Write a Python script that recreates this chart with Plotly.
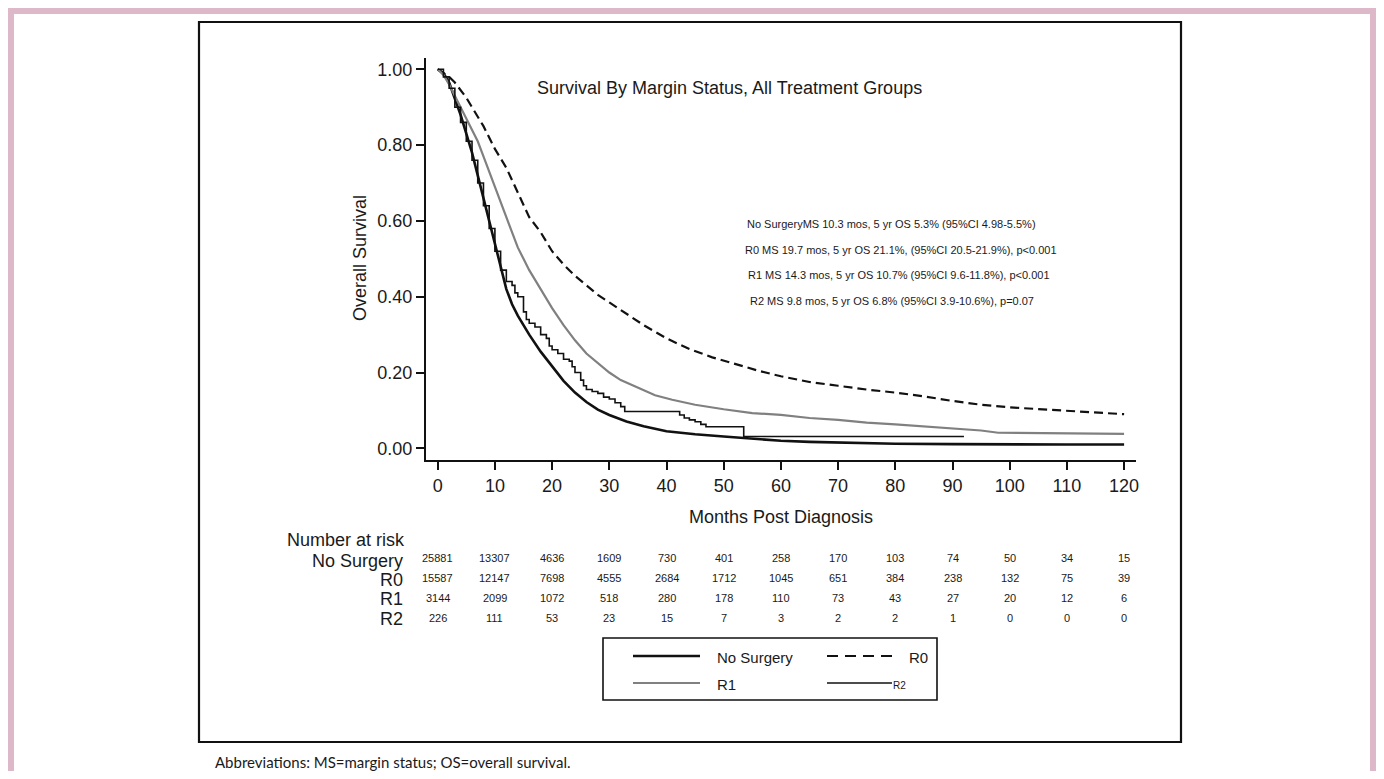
import plotly.graph_objects as go

# ---------------- data ----------------
ns_months = [0, 1, 2, 3, 4, 5, 6, 7, 8, 9, 10, 11, 12, 13, 14, 15, 16, 18, 20, 22, 24, 26, 28, 30, 33, 36, 40,
             45, 50, 55, 60, 65, 70, 75, 80, 90, 100, 110, 120]
ns_surv = [1.0, 0.99, 0.965, 0.925, 0.88, 0.83, 0.78, 0.72, 0.66, 0.60, 0.54, 0.48, 0.42, 0.38, 0.35, 0.325,
           0.30, 0.255, 0.215, 0.178, 0.147, 0.122, 0.102, 0.088, 0.071, 0.058, 0.045, 0.037, 0.031, 0.025,
           0.02, 0.017, 0.015, 0.013, 0.012, 0.011, 0.01, 0.01, 0.01]

r0_months = [0, 1, 2, 3, 4, 5, 6, 7, 8, 9, 10, 12, 14, 16, 18, 20, 22, 24, 26, 28, 30, 33, 36, 40, 44, 48, 52,
             56, 60, 65, 70, 75, 80, 85, 90, 95, 100, 105, 110, 115, 120]
r0_surv = [1.0, 0.99, 0.98, 0.965, 0.945, 0.925, 0.90, 0.875, 0.85, 0.82, 0.79, 0.74, 0.675, 0.61, 0.57, 0.52,
           0.485, 0.455, 0.43, 0.405, 0.385, 0.355, 0.325, 0.29, 0.262, 0.24, 0.222, 0.205, 0.19, 0.175, 0.165,
           0.155, 0.147, 0.137, 0.125, 0.115, 0.108, 0.103, 0.099, 0.095, 0.09]

r1_months = [0, 1, 2, 3, 4, 5, 6, 7, 8, 9, 10, 11, 12, 13, 14, 15, 16, 17, 18, 20, 22, 24, 26, 28, 30, 32, 35,
             38, 41, 45, 50, 55, 60, 65, 70, 75, 80, 85, 90, 95, 98, 105, 113, 120]
r1_surv = [1.0, 0.985, 0.96, 0.93, 0.90, 0.87, 0.84, 0.81, 0.77, 0.73, 0.69, 0.65, 0.61, 0.57, 0.53, 0.50,
           0.47, 0.445, 0.42, 0.37, 0.325, 0.285, 0.25, 0.225, 0.20, 0.18, 0.16, 0.14, 0.128, 0.115, 0.103,
           0.093, 0.088, 0.08, 0.075, 0.068, 0.063, 0.058, 0.053, 0.047, 0.041, 0.04, 0.04, 0.038]

r2_months = [0, 1, 2, 3, 4, 5, 6, 7, 8, 9, 10, 11, 12, 13, 13.5, 14, 15, 15.5, 16, 17, 18, 19, 19.5, 20, 21, 22,
             23, 23.5, 24, 25, 25.5, 26, 27, 28, 29, 30, 31, 32, 32.7, 42.3, 43.1, 44, 45, 46, 46.9, 53.5, 92]
r2_surv = [1.0, 0.98, 0.95, 0.90, 0.86, 0.81, 0.76, 0.70, 0.64, 0.58, 0.52, 0.47, 0.44, 0.43, 0.41, 0.40,
           0.36, 0.34, 0.33, 0.32, 0.30, 0.29, 0.27, 0.26, 0.25, 0.235, 0.23, 0.215, 0.20, 0.18, 0.165, 0.155,
           0.15, 0.145, 0.135, 0.13, 0.12, 0.11, 0.097, 0.088, 0.08, 0.075, 0.07, 0.063, 0.057, 0.031, 0.031]

x_ticks = [0, 10, 20, 30, 40, 50, 60, 70, 80, 90, 100, 110, 120]
y_ticks = [0.0, 0.2, 0.4, 0.6, 0.8, 1.0]

risk_groups = ["No Surgery", "R0", "R1", "R2"]
risk_ns = [25881, 13307, 4636, 1609, 730, 401, 258, 170, 103, 74, 50, 34, 15]
risk_r0 = [15587, 12147, 7698, 4555, 2684, 1712, 1045, 651, 384, 238, 132, 75, 39]
risk_r1 = [3144, 2099, 1072, 518, 280, 178, 110, 73, 43, 27, 20, 12, 6]
risk_r2 = [226, 111, 53, 23, 15, 7, 3, 2, 2, 1, 0, 0, 0]

stats_text = [
    "No SurgeryMS 10.3 mos, 5 yr OS 5.3% (95%CI 4.98-5.5%)",
    "R0 MS 19.7 mos, 5 yr OS 21.1%, (95%CI 20.5-21.9%), p<0.001",
    "R1 MS 14.3 mos, 5 yr OS 10.7% (95%CI 9.6-11.8%), p<0.001",
    "R2 MS 9.8 mos, 5 yr OS 6.8% (95%CI 3.9-10.6%), p=0.07",
]

# ---------------- geometry helpers (page pixels -> paper) ----------------
W, H = 1368, 763
OFF = 8  # default body margin


def px(x):
    return (x - OFF) / W


def py(y):
    return 1 - (y - OFF) / H


FONT = "Liberation Sans, Arial, sans-serif"
TXT = "#1a1a1a"

fig = go.Figure()

fig.add_trace(go.Scatter(x=ns_months, y=ns_surv, mode="lines", name="No Surgery",
                         line=dict(color="#111111", width=2.6), hoverinfo="skip"))
fig.add_trace(go.Scatter(x=r0_months, y=r0_surv, mode="lines", name="R0",
                         line=dict(color="#111111", width=2.2, dash="9px,5px"), hoverinfo="skip"))
fig.add_trace(go.Scatter(x=r1_months, y=r1_surv, mode="lines", name="R1",
                         line=dict(color="#808080", width=2.2), hoverinfo="skip"))
fig.add_trace(go.Scatter(x=r2_months, y=r2_surv, mode="lines", name="R2", line_shape="hv",
                         line=dict(color="#111111", width=1.6), hoverinfo="skip"))

shapes = []
# pink page border
pink = "#dcb8c8"
shapes.append(dict(type="rect", xref="paper", yref="paper", x0=0, x1=px(14), y0=0, y1=py(6),
                   fillcolor=pink, line_width=0, layer="below"))
shapes.append(dict(type="rect", xref="paper", yref="paper", x0=0, x1=1, y0=py(14), y1=1,
                   fillcolor=pink, line_width=0, layer="below"))
shapes.append(dict(type="rect", xref="paper", yref="paper", x0=px(1370), x1=1, y0=0, y1=1,
                   fillcolor=pink, line_width=0, layer="below"))
# outer black frame
shapes.append(dict(type="rect", xref="paper", yref="paper", x0=px(199), x1=px(1181), y0=py(742), y1=py(22),
                   line=dict(color="#111111", width=2.2), fillcolor="rgba(0,0,0,0)"))
# legend box
shapes.append(dict(type="rect", xref="paper", yref="paper", x0=px(603), x1=px(937), y0=py(700), y1=py(638),
                   line=dict(color="#111111", width=1.6), fillcolor="rgba(0,0,0,0)"))
# legend samples
shapes.append(dict(type="line", xref="paper", yref="paper", x0=px(633), x1=px(700), y0=py(656), y1=py(656),
                   line=dict(color="#111111", width=2.6)))
shapes.append(dict(type="line", xref="paper", yref="paper", x0=px(827), x1=px(896), y0=py(656), y1=py(656),
                   line=dict(color="#111111", width=2.2, dash="11px,7px")))
shapes.append(dict(type="line", xref="paper", yref="paper", x0=px(633), x1=px(700), y0=py(683), y1=py(683),
                   line=dict(color="#808080", width=2.2)))
shapes.append(dict(type="line", xref="paper", yref="paper", x0=px(827), x1=px(892), y0=py(683), y1=py(683),
                   line=dict(color="#111111", width=1.6)))

ann = []


def add_text(text, x, y, size, xanchor="center", xref="paper", family=FONT, angle=0):
    ann.append(dict(text=text, x=x, y=y, xref=xref, yref="paper", showarrow=False, xanchor=xanchor,
                    yanchor="middle", textangle=angle, font=dict(family=family, size=size, color=TXT)))


add_text("Survival By Margin Status, All Treatment Groups", px(729), py(88), 18)
add_text("Overall Survival", px(360), py(258), 18, angle=-90)
add_text("Months Post Diagnosis", px(781), py(517), 18)

stat_x = [745, 743, 746, 748]
stat_y = [224, 250, 275, 301]
for t, sx, sy in zip(stats_text, stat_x, stat_y):
    add_text(t, px(sx), py(sy), 11, xanchor="left")

# number at risk table
add_text("Number at risk", px(407), py(540), 18, xanchor="right")
label_y = [561, 580, 599, 619]
num_y = [558, 578, 598, 618]
for g, ly in zip(risk_groups, label_y):
    add_text(g, px(405), py(ly), 18, xanchor="right")
for row, ny in zip([risk_ns, risk_r0, risk_r1, risk_r2], num_y):
    for m, v in zip(x_ticks, row):
        add_text(str(v), m, py(ny), 11, xref="x")

# legend texts
add_text("No Surgery", px(715), py(657), 15, xanchor="left")
add_text("R0", px(907), py(657), 15, xanchor="left")
add_text("R1", px(715), py(684), 15, xanchor="left")
add_text("R2", px(891), py(685), 10, xanchor="left")

# footnote (kept inside the figure's bottom edge)
add_text("Abbreviations: MS=margin status; OS=overall survival.", px(213), py(762), 15, xanchor="left",
         family="Lato, Open Sans, sans-serif")

fig.update_layout(
    width=W, height=H,
    margin=dict(l=0, r=0, t=0, b=0, autoexpand=False),
    paper_bgcolor="white", plot_bgcolor="white",
    showlegend=False,
    shapes=shapes,
    annotations=ann,
    xaxis=dict(domain=[px(426), px(1136)], range=[(426 - 437.7) / 5.72, (1136 - 437.7) / 5.72],
               tickvals=x_ticks, ticks="outside", ticklen=8, tickwidth=1.6, tickcolor="#111111",
               showline=True, linecolor="#111111", linewidth=2, showgrid=False, zeroline=False,
               tickfont=dict(family=FONT, size=18, color=TXT)),
    yaxis=dict(domain=[py(460), py(58)], range=[(448.3 - 460) / 379, (448.3 - 58) / 379],
               tickvals=y_ticks, tickformat=".2f", ticks="outside", ticklen=8, tickwidth=1.6,
               tickcolor="#111111", showline=True, linecolor="#111111", linewidth=2, showgrid=False,
               zeroline=False, tickfont=dict(family=FONT, size=18, color=TXT)),
)

fig.write_html("out.html")
